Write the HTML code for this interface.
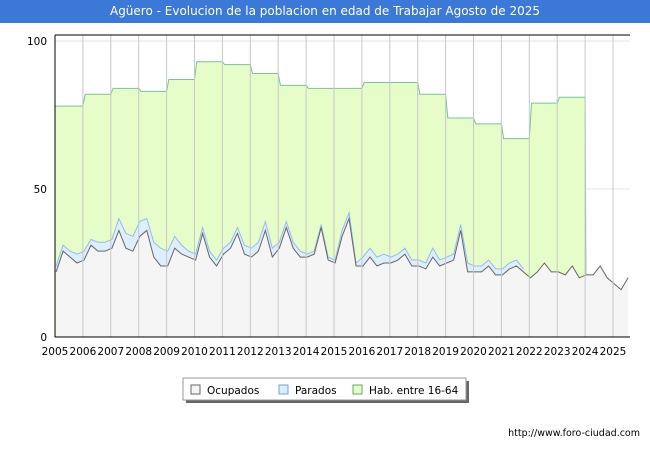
<!DOCTYPE html>
<html><head><meta charset="utf-8"><style>
body{margin:0;width:650px;height:450px;background:#fff;font-family:"Liberation Sans",sans-serif;overflow:hidden;position:relative}
#title{position:absolute;left:0;top:0;width:650px;height:23px;background:#3b78d8;color:#fff;line-height:23px;text-align:center;font-family:"DejaVu Sans",sans-serif;font-size:12px}
#url{position:absolute;right:10px;top:428px;color:#000;font-family:"DejaVu Sans",sans-serif;font-size:9.5px}
svg text{font-family:"DejaVu Sans",sans-serif}
</style></head><body>
<div id="title">Agüero - Evolucion de la poblacion en edad de Trabajar Agosto de 2025</div>
<svg id="chart" width="650" height="450" style="position:absolute;left:0;top:0"></svg>
<div id="url">http://www.foro-ciudad.com</div>
<script>
const years=[2005,2006,2007,2008,2009,2010,2011,2012,2013,2014,2015,2016,2017,2018,2019,2020,2021,2022,2023,2024,2025];
const habValues=[78,82,84,83,87,93,92,89,85,84,84,86,86,82,74,72,67,79,81];
const ocupados=[22,29,27,25, 26,31,29,29, 30,36,30,29, 34,36,27,24, 24,30,28,27, 26,35,27,24, 28,30,35,28, 27,29,36,27, 30,37,30,27, 27,28,37,26, 25,34,40,24, 24,27,24,25, 25,26,28,24, 24,23,27,24, 25,26,36,22, 22,22,24,21, 21,23,24,22, 20,22,25,22, 22,21,24,20, 21,21,24,20, 18,16,20];
const parados=[2,2,2,3, 3,2,3,3, 3,4,5,5, 5,4,5,6, 5,4,3,2, 2,2,2,2, 2,2,2,3, 3,3,3,3, 2,2,2,2, 1,1,1,1, 1,2,2,1, 3,3,3,3, 2,2,2,2, 2,2,3,2, 2,2,2,3, 2,2,2,2, 2,2,2,1];
const yTicks=[0,50,100];
const X0=55,X1=630,YB=337,YT=41;
const xs=t=>X0+(t-2005)*27.9;
const ys=v=>YB-(v/100)*(YB-YT);
const svg=document.getElementById('chart');
const NS='http://www.w3.org/2000/svg';
function mk(tag,attrs,name){const e=document.createElementNS(NS,tag);for(const k in attrs)e.setAttribute(k,attrs[k]);


svg.appendChild(e);return e;}
mk('rect',{x:X0,y:35,width:X1-X0,height:YB-35,fill:'#fff'},'plot-area');
yTicks.forEach(v=>{mk('line',{x1:X0,x2:X1,y1:ys(v),y2:ys(v),stroke:'#e4e4e4'},'grid-h');});
let hp=`M${xs(2005)},${YB} L${xs(2005)},${ys(habValues[0])}`;
habValues.forEach((v,i)=>{if(i>0)hp+=` L${xs(2005+i+0.08)},${ys(v)}`;hp+=` L${xs(2006+i)},${ys(v)}`;});
const tEnd=2005+habValues.length;
hp+=` L${xs(tEnd+0.04)},${YB} Z`;
mk('path',{d:hp,fill:'#e6fdc9',stroke:'#7cc09c','stroke-width':1},'hab-area');
const tq=i=>2005+i*0.25+0.04;
const topPts=[],botPts=[];
parados.forEach((p,i)=>{topPts.push(`${xs(tq(i))},${ys(ocupados[i]+p)}`);botPts.push(`${xs(tq(i))},${ys(ocupados[i])}`);});
mk('polygon',{points:topPts.concat(botPts.slice().reverse()).join(' '),fill:'#ddeeff',stroke:'none'},'parados-area');
mk('polyline',{points:topPts.join(' '),fill:'none',stroke:'#9ab8ee','stroke-width':1},'parados-line');
const op=ocupados.map((v,i)=>`${xs(tq(i))},${ys(v)}`);
mk('polygon',{points:`${xs(tq(0))},${YB} `+op.join(' ')+` ${xs(tq(ocupados.length-1))},${YB}`,fill:'#f5f5f5'},'ocupados-area');
mk('polyline',{points:op.join(' '),fill:'none',stroke:'#666','stroke-width':1},'ocupados-line');
years.forEach(y=>{mk('line',{x1:xs(y),x2:xs(y),y1:35,y2:YB,stroke:'#c8c8c8'},'grid-v');
const t=mk('text',{x:xs(y),y:355,'font-size':10.5,'text-anchor':'middle',fill:'#000'},'x-tick-label');t.textContent=y;});
yTicks.forEach(v=>{const t=mk('text',{x:47,y:ys(v)+4,'font-size':10.5,'text-anchor':'end',fill:'#000'},'y-tick-label');t.textContent=v;});
mk('line',{x1:X0,x2:X0,y1:35,y2:YB,stroke:'#000'},'y-axis');
mk('line',{x1:X0,x2:X1,y1:35,y2:35,stroke:'#000'},'plot-top-border');
mk('line',{x1:X0,x2:X1,y1:YB,y2:YB,stroke:'#000'},'x-axis');
mk('rect',{x:186,y:381,width:283,height:22,fill:'#666'},'legend-shadow');
mk('rect',{x:183,y:378,width:283,height:22,fill:'#fff',stroke:'#999'},'legend');
[['Ocupados','#f5f5f5','#666',191],['Parados','#ddeeff','#7a9ee0',279],['Hab. entre 16-64','#e6fdc9','#6a6',353]].forEach(l=>{
mk('rect',{x:l[3],y:385,width:9,height:9,fill:l[1],stroke:l[2]},'legend-swatch');
const t=mk('text',{x:l[3]+16,y:394,'font-size':10.5,fill:'#000'},'legend-entry');t.textContent=l[0];});
</script>
</body></html>
